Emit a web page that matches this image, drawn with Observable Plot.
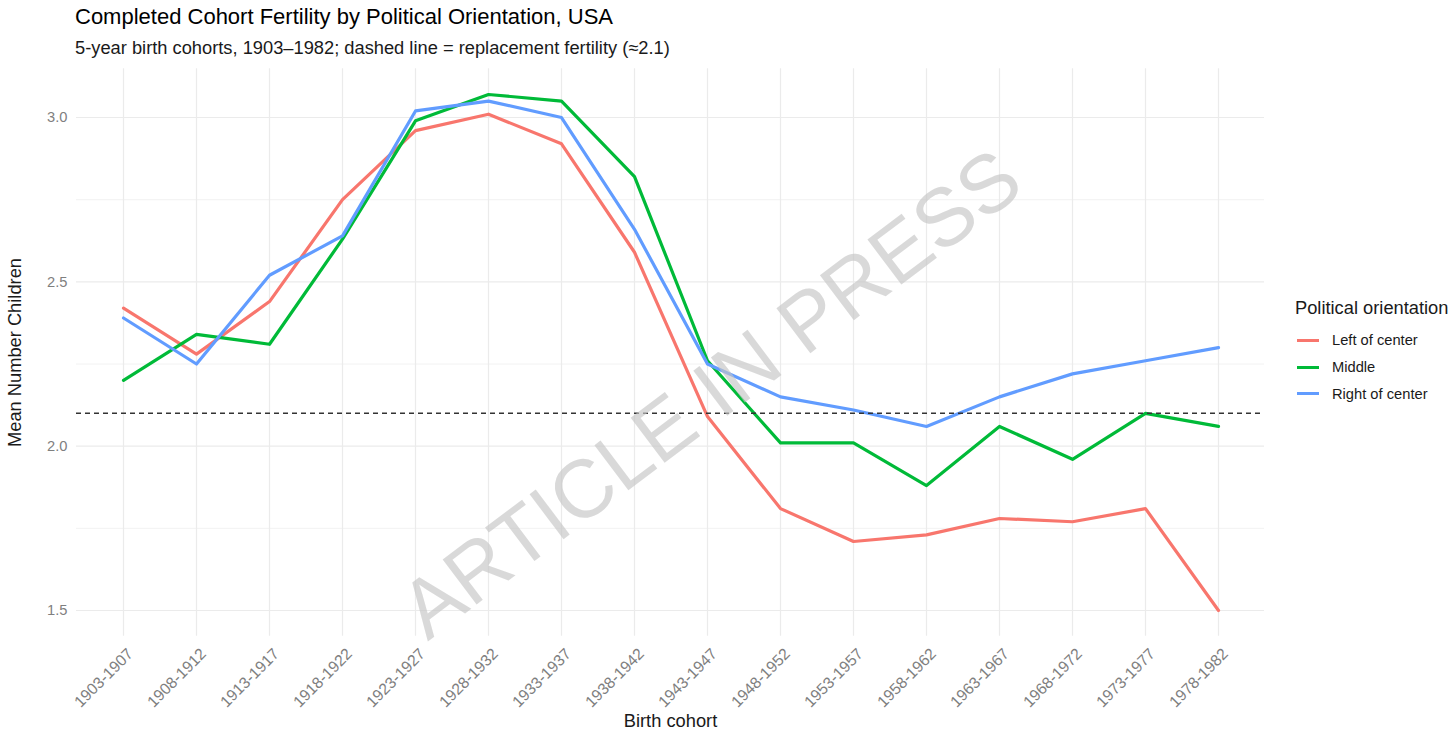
<!DOCTYPE html>
<html>
<head>
<meta charset="utf-8">
<script src="https://cdn.jsdelivr.net/npm/d3@7"></script>
<script src="https://cdn.jsdelivr.net/npm/@observablehq/plot@0.6"></script>
<style>
  html, body { margin: 0; padding: 0; background: #fff; }
  #wrap { position: relative; width: 1456px; height: 736px; overflow: hidden; font-family: "Liberation Sans", Arial, sans-serif; }
  #title { position: absolute; left: 75px; top: 4px; font-size: 22px; color: #000; white-space: nowrap; }
  #subtitle { position: absolute; left: 75px; top: 37px; font-size: 18.3px; color: #1a1a1a; white-space: nowrap; }
  #chart { position: absolute; left: 0; top: 60px; }
  #legend { position: absolute; left: 1295px; top: 297px; color: #1a1a1a; }
  #legend .lt { font-size: 18.3px; margin-bottom: 8px; white-space: nowrap; }
  #legend .item { display: flex; align-items: center; height: 26.7px; font-size: 14.7px; white-space: nowrap; }
  #legend .key { width: 22px; height: 3px; margin-left: 2px; margin-right: 13px; }
</style>
</head>
<body>
<div id="wrap">
  <div id="title">Completed Cohort Fertility by Political Orientation, USA</div>
  <div id="subtitle">5-year birth cohorts, 1903–1982; dashed line = replacement fertility (≈2.1)</div>
  <div id="chart"></div>
  <div id="legend"></div>
</div>
<script>
const cohorts = ["1903-1907","1908-1912","1913-1917","1918-1922","1923-1927","1928-1932","1933-1937","1938-1942","1943-1947","1948-1952","1953-1957","1958-1962","1963-1967","1968-1972","1973-1977","1978-1982"];
const groups = ["Left of center", "Middle", "Right of center"];
const colors = ["#F8766D", "#00BA38", "#619CFF"];
const leftValues   = [2.42, 2.28, 2.44, 2.75, 2.96, 3.01, 2.92, 2.59, 2.09, 1.81, 1.71, 1.73, 1.78, 1.77, 1.81, 1.50];
const middleValues = [2.20, 2.34, 2.31, 2.63, 2.99, 3.07, 3.05, 2.82, 2.26, 2.01, 2.01, 1.88, 2.06, 1.96, 2.10, 2.06];
const rightValues  = [2.39, 2.25, 2.52, 2.64, 3.02, 3.05, 3.00, 2.66, 2.25, 2.15, 2.11, 2.06, 2.15, 2.22, 2.26, 2.30];
const yTicks = [1.5, 2.0, 2.5, 3.0];
const yMinor = [1.75, 2.25, 2.75];
const replacement = 2.1;
const titleX = "Birth cohort";
const titleY = "Mean Number Children";
const watermark = "ARTICLE IN PRESS";

const seriesValues = [leftValues, middleValues, rightValues];
const data = [];
groups.forEach((g, gi) => cohorts.forEach((c, i) => data.push({group: g, cohort: c, value: seriesValues[gi][i]})));

const W = 1290, H = 676;
const chart = Plot.plot({
  width: W,
  height: H,
  marginLeft: 76,
  marginRight: 26,
  marginTop: 8.2,
  marginBottom: 100.2,
  style: {fontFamily: '"Liberation Sans", Arial, sans-serif', background: "transparent"},
  x: {type: "point", domain: cohorts, padding: 0.6},
  y: {domain: [1.4215, 3.1485]},
  color: {domain: groups, range: colors},
  marks: [
    Plot.gridY(yMinor, {stroke: "#f0f0f0", strokeOpacity: 1, strokeWidth: 0.9}),
    Plot.gridY(yTicks, {stroke: "#ebebeb", strokeOpacity: 1, strokeWidth: 1.2}),
    Plot.gridX(cohorts, {stroke: "#ebebeb", strokeOpacity: 1, strokeWidth: 1.2}),
    Plot.axisY(yTicks, {tickSize: 0, tickPadding: 9, tickFormat: d3.format(".1f"), fontSize: 14.7, fill: "#7f7f7f", label: null}),
    Plot.axisX({tickSize: 0, tickPadding: 9, tickRotate: -45, dx: 7, dy: 6, fontSize: 15.8, fill: "#7f7f7f", label: null}),
    Plot.lineY(data, {x: "cohort", y: "value", z: "group", stroke: "group", strokeWidth: 3.2, strokeLinejoin: "round"}),
    Plot.ruleY([replacement], {stroke: "#333", strokeWidth: 1.6, strokeDasharray: "5,4"}),
    Plot.text([titleX], {text: d => d, frameAnchor: "bottom", dy: 85, lineAnchor: "middle", fontSize: 18.3, fill: "#1a1a1a"}),
    Plot.text([titleY], {text: d => d, frameAnchor: "left", dx: -61, rotate: -90, lineAnchor: "middle", textAnchor: "middle", fontSize: 18.3, fill: "#1a1a1a"}),
    Plot.text([watermark], {text: d => d, frameAnchor: "top-left", dx: 635, dy: 326, rotate: -37, textAnchor: "middle", lineAnchor: "middle", fontSize: 82, fill: "#c4c4c4", fillOpacity: 0.65})
  ]
});
document.getElementById("chart").appendChild(chart);

const legend = document.getElementById("legend");
const lt = document.createElement("div");
lt.className = "lt";
lt.textContent = "Political orientation";
legend.appendChild(lt);
groups.forEach((g, i) => {
  const it = document.createElement("div");
  it.className = "item";
  const k = document.createElement("div");
  k.className = "key";
  k.style.background = colors[i];
  const t = document.createElement("span");
  t.textContent = g;
  it.appendChild(k);
  it.appendChild(t);
  legend.appendChild(it);
});
</script>
</body>
</html>
